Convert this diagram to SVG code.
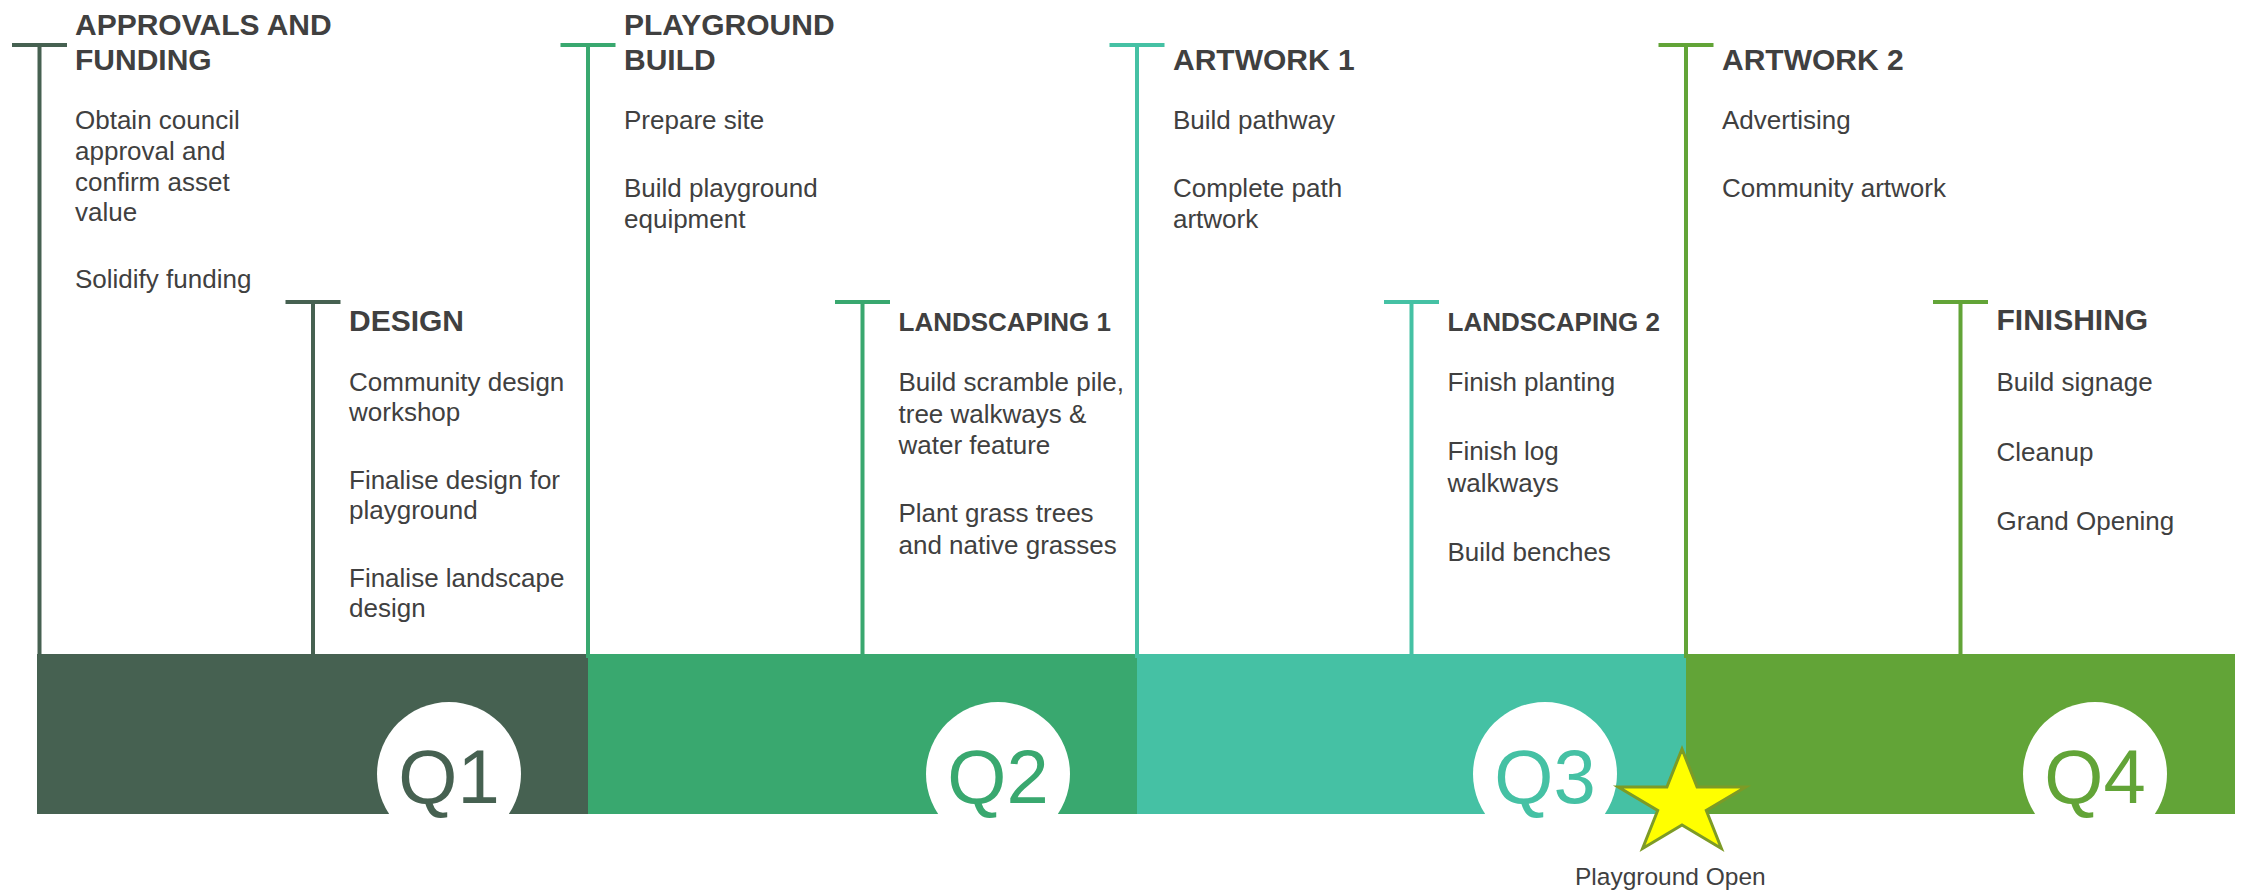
<svg xmlns="http://www.w3.org/2000/svg" width="2250" height="892" viewBox="0 0 2250 892">
<style>
text{font-family:"Liberation Sans",Arial,sans-serif;fill:#404040}
.t{font-size:30px;font-weight:bold}
.ts{font-size:26px;font-weight:bold}
.b{font-size:26px}
.q{font-size:76px;text-anchor:middle}
.lab{font-size:24.5px}
.c1{stroke:#466151}.c2{stroke:#39A86F}.c3{stroke:#45C1A4}.c4{stroke:#62A437}
.ln{stroke-width:4;fill:none}
</style>
<rect width="2250" height="892" fill="#FFFFFF"/>
<g id="quarters">
<g id="q1"><rect x="37" y="654" width="551" height="160" fill="#466151"/></g>
<g id="q2"><rect x="588" y="654" width="549" height="160" fill="#39A86F"/></g>
<g id="q3"><rect x="1137" y="654" width="549" height="160" fill="#45C1A4"/></g>
<g id="q4"><rect x="1686" y="654" width="549" height="160" fill="#62A437"/></g>
</g>
<g id="connectors" class="ln">
<path class="c1" d="M39.5 658V45M12 45H67"/>
<path class="c1" d="M313 658V302M285.5 302H340.5"/>
<path class="c2" d="M588 658V45M560.5 45H615.5"/>
<path class="c2" d="M862.5 658V302M835 302H890"/>
<path class="c3" d="M1137 658V45M1109.5 45H1164.5"/>
<path class="c3" d="M1411.5 658V302M1384 302H1439"/>
<path class="c4" d="M1686 658V45M1658.5 45H1713.5"/>
<path class="c4" d="M1960.5 658V302M1933 302H1988"/>
</g>
<g id="q-labels">
<g id="q1-label"><circle cx="449" cy="774" r="72" fill="#FFFFFF"/><text class="q" x="449" y="803" style="fill:#466151">Q1</text></g>
<g id="q2-label"><circle cx="998" cy="774" r="72" fill="#FFFFFF"/><text class="q" x="998" y="803" style="fill:#39A86F">Q2</text></g>
<g id="q3-label"><circle cx="1545" cy="774" r="72" fill="#FFFFFF"/><text class="q" x="1545" y="803" style="fill:#45C1A4">Q3</text></g>
<g id="q4-label"><circle cx="2095" cy="774" r="72" fill="#FFFFFF"/><text class="q" x="2095" y="803" style="fill:#62A437">Q4</text></g>
</g>
<g id="approvals">
<text class="t" x="75" y="34.5">APPROVALS AND</text>
<text class="t" x="75" y="70">FUNDING</text>
<text class="b" x="75" y="129">Obtain council</text>
<text class="b" x="75" y="160">approval and</text>
<text class="b" x="75" y="190.5">confirm asset</text>
<text class="b" x="75" y="221">value</text>
<text class="b" x="75" y="288">Solidify funding</text>
</g>
<g id="design">
<text class="t" x="349" y="330.5">DESIGN</text>
<text class="b" x="349" y="391">Community design</text>
<text class="b" x="349" y="421">workshop</text>
<text class="b" x="349" y="489">Finalise design for</text>
<text class="b" x="349" y="519">playground</text>
<text class="b" x="349" y="587">Finalise landscape</text>
<text class="b" x="349" y="617">design</text>
</g>
<g id="playground-build">
<text class="t" x="624" y="34.5">PLAYGROUND</text>
<text class="t" x="624" y="70">BUILD</text>
<text class="b" x="624" y="129">Prepare site</text>
<text class="b" x="624" y="197">Build playground</text>
<text class="b" x="624" y="228">equipment</text>
</g>
<g id="landscaping-1">
<text class="ts" x="898.5" y="330.5">LANDSCAPING 1</text>
<text class="b" x="898.5" y="391">Build scramble pile,</text>
<text class="b" x="898.5" y="423">tree walkways &amp;</text>
<text class="b" x="898.5" y="454">water feature</text>
<text class="b" x="898.5" y="522">Plant grass trees</text>
<text class="b" x="898.5" y="554">and native grasses</text>
</g>
<g id="artwork-1">
<text class="t" x="1173" y="70">ARTWORK 1</text>
<text class="b" x="1173" y="129">Build pathway</text>
<text class="b" x="1173" y="197">Complete path</text>
<text class="b" x="1173" y="228">artwork</text>
</g>
<g id="landscaping-2">
<text class="ts" x="1447.5" y="330.5">LANDSCAPING 2</text>
<text class="b" x="1447.5" y="391">Finish planting</text>
<text class="b" x="1447.5" y="460">Finish log</text>
<text class="b" x="1447.5" y="492">walkways</text>
<text class="b" x="1447.5" y="561">Build benches</text>
</g>
<g id="artwork-2">
<text class="t" x="1722" y="70">ARTWORK 2</text>
<text class="b" x="1722" y="129">Advertising</text>
<text class="b" x="1722" y="197">Community artwork</text>
</g>
<g id="finishing">
<text class="t" x="1996.5" y="330">FINISHING</text>
<text class="b" x="1996.5" y="391">Build signage</text>
<text class="b" x="1996.5" y="460.5">Cleanup</text>
<text class="b" x="1996.5" y="530">Grand Opening</text>
</g>
<g id="playground-open">
<polygon points="1682,749 1697.1,787 1745.7,787 1706.3,810.5 1721.4,848.5 1682,825 1642.6,848.5 1657.7,810.5 1618.3,787 1666.9,787" fill="#FFFF00" stroke="#7D9B26" stroke-width="3" stroke-linejoin="miter"/>
<text class="lab" x="1575" y="885">Playground Open</text>
</g>
</svg>
